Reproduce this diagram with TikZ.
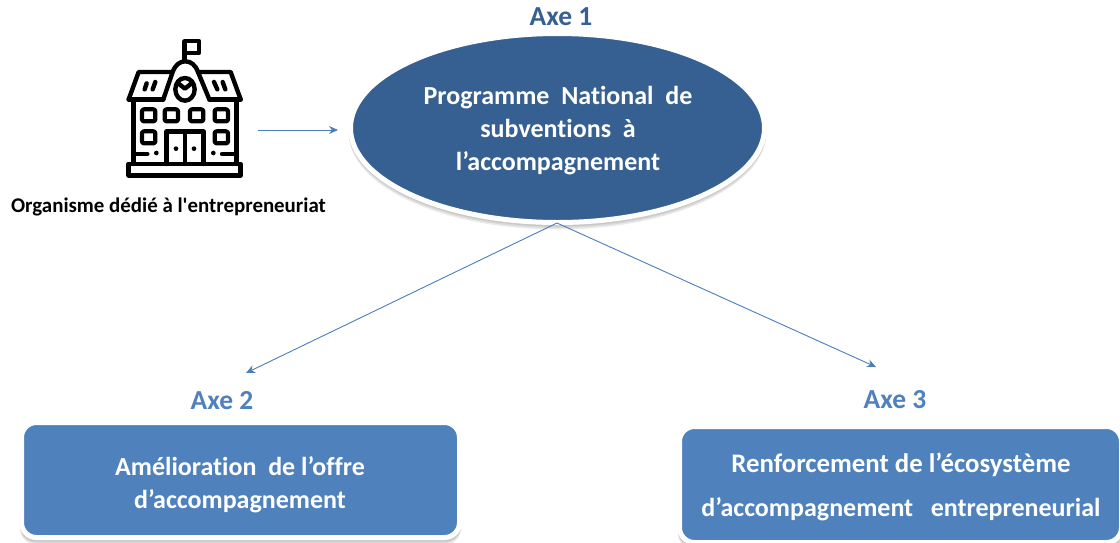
\documentclass[tikz,border=0pt]{standalone}
\usepackage{fontspec}
\setmainfont{Carlito}[Ligatures=NoCommon]
\newfontfamily\aposfont{Carlito}
\usetikzlibrary{shapes.geometric,arrows.meta}
\definecolor{darkblue}{HTML}{376092}
\definecolor{midblue}{HTML}{4F81BD}
\definecolor{linkblue}{HTML}{4A7EBB}
\tikzset{
  shapetext/.style={text=white,font=\fontsize{26}{33}\selectfont\bfseries,align=center,inner sep=0pt},
  ovalshape/.style={ellipse,inner sep=0pt,minimum width=414pt,minimum height=189pt},
  boxshape/.style={rectangle,rounded corners=15pt,inner sep=0pt},
  halo/.style={draw=white,line width=5pt},
  soft/.style={fill=black,fill opacity=.08,draw=none},
  axis/.style={font=\fontsize{27.5}{32}\selectfont\bfseries},
  link/.style={draw=linkblue,line width=.9pt,-{Stealth[length=9pt,width=8pt]}},
  ink/.style={draw=black,line width=4.4pt,line join=round,line cap=round},
  inkthin/.style={draw=black,line width=4.2pt,line join=round,line cap=round,fill=white}
}
\begin{document}
\begin{tikzpicture}[x=1pt,y=-1pt]
\useasboundingbox (0,0) rectangle (1120,542);
\clip (0,0) rectangle (1120,542);
% soft shadows
\foreach \d in {1.5,3,4.5}{
  \path[soft] (557.5,128+\d) ellipse [x radius=209,y radius=97];
  \path[soft,rounded corners=16pt] (20,420+\d) rectangle (461,540+\d);
  \path[soft,rounded corners=16pt] (678,424+\d) rectangle (1125,545+\d);
}
% main shapes
\node[ovalshape,halo,fill=darkblue] (main) at (557.5,128) {};
\node[boxshape,halo,fill=midblue,minimum width=438pt,minimum height=115pt] (two) at (240.5,480) {};
\node[boxshape,halo,fill=midblue,minimum width=442pt,minimum height=116pt] (three) at (900.5,484.5) {};
% shape texts
\node[shapetext] (maintext) at (558,131) {Programme~~National~~de\\subventions~~à\\l’accompagnement};
\node[shapetext] (twotext) at (240,485) {Amélioration~~de l’offre\\d’accompagnement};
\node[shapetext,font=\fontsize{26}{44}\selectfont\bfseries] (threetext) at (901,487) {{\fontsize{26.8}{44}\selectfont Renforcement de l’écosystème}\\d’accompagnement~~ entrepreneurial};
% labels
\node[axis,text=darkblue] (axe1) at (561,17) {Axe 1};
\node[axis,text=midblue] (axe2) at (222,401) {Axe 2};
\node[axis,text=midblue] (axe3) at (895,400) {Axe 3};
\node[font=\fontsize{20.9}{24}\selectfont\bfseries] (org) at (168.5,207) {Organisme dédié à l{\aposfont\char39}entrepreneuriat};
% connectors
\coordinate (iconend) at (258,130);
\coordinate (mainleft) at (338,130);
\coordinate (apex) at (557,223);
\coordinate (goaltwo) at (246,373);
\coordinate (goalthree) at (876,367);
\draw[link] (iconend) -- (mainleft);
\draw[link] (apex) -- (goaltwo);
\draw[link] (apex) -- (goalthree);
% building icon
\begin{scope}[shift={(110,30)},x=.3333pt,y=-.3333pt]
  % flag
  \draw[inkthin] (224,34) rectangle (268,68);
  \draw[ink] (224,34) -- (224,92);
  % roofs
  \draw[ink] (56,208) -- (86,126) -- (186,126);
  \draw[ink] (392,208) -- (362,126) -- (264,126);
  \draw[ink] (56,208) -- (160,208);
  \draw[ink] (392,208) -- (298,208);
  % central gable
  \draw[ink] (160,208) -- (188,126) .. controls (196,104) and (210,94) .. (226,94) .. controls (242,94) and (256,104) .. (264,126) -- (298,208);
  % roof slits
  \draw[ink] (104,178) -- (110,160);
  \draw[ink] (128,178) -- (136,156);
  \draw[ink] (322,178) -- (312,156);
  \draw[ink] (346,178) -- (338,156);
  % clock
  \draw[ink] (225,178) ellipse [x radius=29,y radius=34];
  \draw[ink] (207,162) -- (225,176) -- (242,162);
  % walls
  \draw[ink] (70,208) -- (70,402);
  \draw[ink] (380,208) -- (380,402);
  % windows row 1
  \foreach \wx in {96,164,240,314}{
    \draw[inkthin,rounded corners=2pt] (\wx,238) rectangle ++(40,36);
  }
  % windows row 2
  \draw[inkthin,rounded corners=2pt] (96,304) rectangle ++(40,36);
  \draw[inkthin,rounded corners=2pt] (314,304) rectangle ++(40,36);
  % door
  \draw[ink] (170,402) -- (170,304) -- (280,304) -- (280,402);
  \draw[ink] (225,304) -- (225,402);
  \fill (198,356) circle (7);
  \fill (252,356) circle (7);
  % small details
  \fill (139,369) circle (7);
  \fill (310,369) circle (7);
  \draw[ink] (76,372) -- (112,372);
  \draw[ink] (336,372) -- (374,372);
  % base
  \draw[ink] (56,402) rectangle (392,436);
  \draw[draw=white,line width=3pt] (64,418) -- (150,418);
  \draw[draw=white,line width=3pt] (164,418) -- (285,418);
  \draw[draw=white,line width=3pt] (298,418) -- (384,418);
\end{scope}
\end{tikzpicture}
\end{document}
